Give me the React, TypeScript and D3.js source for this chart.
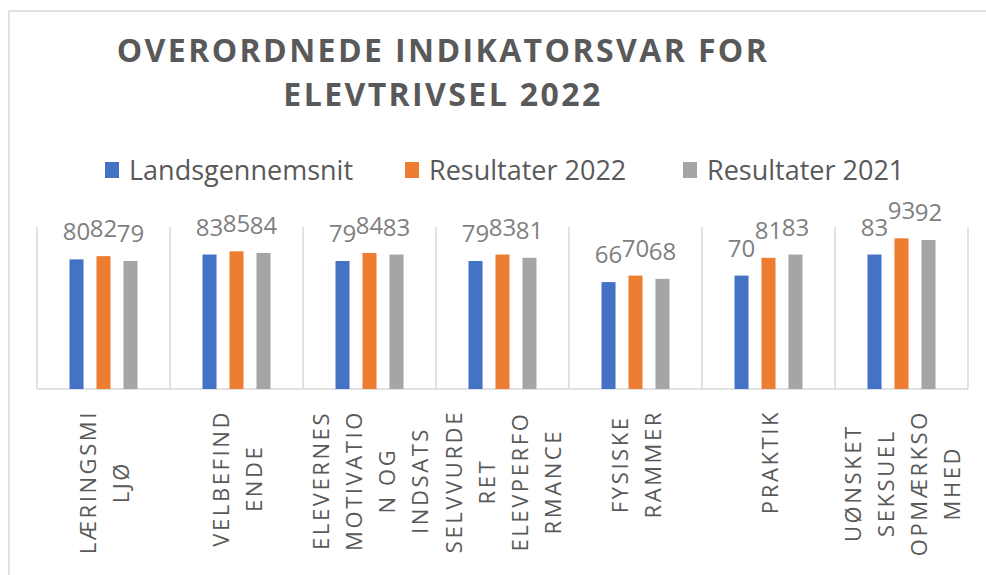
import React, { useEffect, useRef } from "react";
import * as d3 from "d3";

// categories, wrapped the way the axis shows them
const categoryLines: string[][] = [
  ["LÆRINGSMI", "LJØ"],
  ["VELBEFIND", "ENDE"],
  ["ELEVERNES", "MOTIVATIO", "N OG", "INDSATS"],
  ["SELVVURDE", "RET", "ELEVPERFO", "RMANCE"],
  ["FYSISKE", "RAMMER"],
  ["PRAKTIK"],
  ["UØNSKET", "SEKSUEL", "OPMÆRKSO", "MHED"],
];
const categories = categoryLines.map(l => l.join(""));

const seriesNames = ["Landsgennemsnit", "Resultater 2022", "Resultater 2021"];
const seriesColors = ["#4472c4", "#ed7d31", "#a5a5a5"];

const landsgennemsnit = [80, 83, 79, 79, 66, 70, 83];
const resultater2022 = [82, 85, 84, 83, 70, 81, 93];
const resultater2021 = [79, 84, 83, 81, 68, 83, 92];

const titleLines = ["OVERORDNEDE INDIKATORSVAR FOR", "ELEVTRIVSEL 2022"];

const App = () => {
  const ref = useRef<SVGSVGElement>(null);

  useEffect(() => {
    const width = 986, height = 575;
    const svg = d3.select(ref.current).attr("width", width).attr("height", height);
    svg.selectAll("*").remove();

    const values = [landsgennemsnit, resultater2022, resultater2021];
    const rows = categories.map((c, i) => ({
      cat: c,
      vals: seriesNames.map((s, j) => ({ s, v: values[j][i] })),
    }));

    const plot = { left: 37, right: 968, top: 227, bottom: 389 };

    // chart frame
    svg.append("rect")
      .attr("x", 9).attr("y", 11)
      .attr("width", 1000).attr("height", 600)
      .attr("fill", "#fff")
      .attr("stroke", "#d9d9d9").attr("stroke-width", 1.5);

    // title
    svg.append("g").selectAll("text")
      .data(titleLines)
      .enter().append("text")
      .attr("x", 443)
      .attr("y", (d, i) => 62 + i * 44)
      .attr("text-anchor", "middle")
      .attr("font-family", "Open Sans")
      .attr("font-weight", "bold")
      .attr("font-size", 32)
      .attr("letter-spacing", 2.4)
      .attr("fill", "#595959")
      .text(d => d);

    // legend
    const legendX = [105, 405, 683];
    const legend = svg.append("g").selectAll("g")
      .data(seriesNames)
      .enter().append("g")
      .attr("transform", (d, i) => `translate(${legendX[i]},162)`);
    legend.append("rect")
      .attr("width", 14).attr("height", 16)
      .attr("fill", (d, i) => seriesColors[i]);
    legend.append("text")
      .attr("x", 24).attr("y", 18)
      .attr("font-family", "Open Sans")
      .attr("font-size", 27)
      .attr("fill", "#595959")
      .text(d => d);

    const x = d3.scaleBand()
      .domain(categories)
      .range([plot.left, plot.right])
      .padding(0);

    const x1 = d3.scaleBand()
      .domain(seriesNames)
      .range([0, 68])
      .paddingInner(0.48);
    const groupOffset = (x.bandwidth() - 68) / 2;

    const y = d3.scaleLinear()
      .domain([0, 100])
      .range([plot.bottom, plot.top]);

    // vertical gridlines at category boundaries
    const bounds = categories.map(c => x(c)!).concat([plot.right]);
    svg.append("g").selectAll("line")
      .data(bounds)
      .enter().append("line")
      .attr("x1", d => d).attr("x2", d => d)
      .attr("y1", plot.top).attr("y2", plot.bottom)
      .attr("stroke", "#d9d9d9").attr("stroke-width", 1.5);

    // baseline
    svg.append("line")
      .attr("x1", plot.left).attr("x2", plot.right)
      .attr("y1", plot.bottom).attr("y2", plot.bottom)
      .attr("stroke", "#d9d9d9").attr("stroke-width", 1.5);

    const groups = svg.append("g").selectAll("g")
      .data(rows)
      .enter().append("g")
      .attr("transform", d => `translate(${x(d.cat)! + groupOffset},0)`);

    groups.selectAll("rect")
      .data(d => d.vals)
      .enter().append("rect")
      .attr("x", d => x1(d.s)!)
      .attr("y", d => y(d.v))
      .attr("width", x1.bandwidth())
      .attr("height", d => plot.bottom - y(d.v))
      .attr("fill", (d, i) => seriesColors[i]);

    groups.selectAll("text")
      .data(d => d.vals)
      .enter().append("text")
      .attr("x", d => x1(d.s)! + x1.bandwidth() / 2)
      .attr("y", d => y(d.v) - 19)
      .attr("text-anchor", "middle")
      .attr("font-family", "Open Sans")
      .attr("font-size", 24)
      .attr("fill", "#7f7f7f")
      .text(d => d.v);

    // rotated category labels, top aligned under the axis
    const lineGap = 33;
    categoryLines.forEach((lines, ci) => {
      const cx = x(categories[ci])! + x.bandwidth() / 2;
      const g = svg.append("g");
      const texts = g.selectAll("text")
        .data(lines)
        .enter().append("text")
        .attr("text-anchor", "middle")
        .attr("dominant-baseline", "central")
        .attr("font-family", "Open Sans")
        .attr("font-size", 22)
        .attr("letter-spacing", 2.6)
        .attr("fill", "#595959")
        .text(d => d);
      let maxLen = 0;
      texts.each(function () {
        maxLen = Math.max(maxLen, (this as SVGTextElement).getComputedTextLength());
      });
      const yc = 410 + maxLen / 2;
      texts.attr("transform", (d, i) =>
        `translate(${cx + (i - (lines.length - 1) / 2) * lineGap},${yc}) rotate(-90)`);
    });
  }, []);

  return (
    <svg ref={ref} style={{ position: "absolute", left: 0, top: 0, background: "#fff" }}></svg>
  );
};

export default App;
